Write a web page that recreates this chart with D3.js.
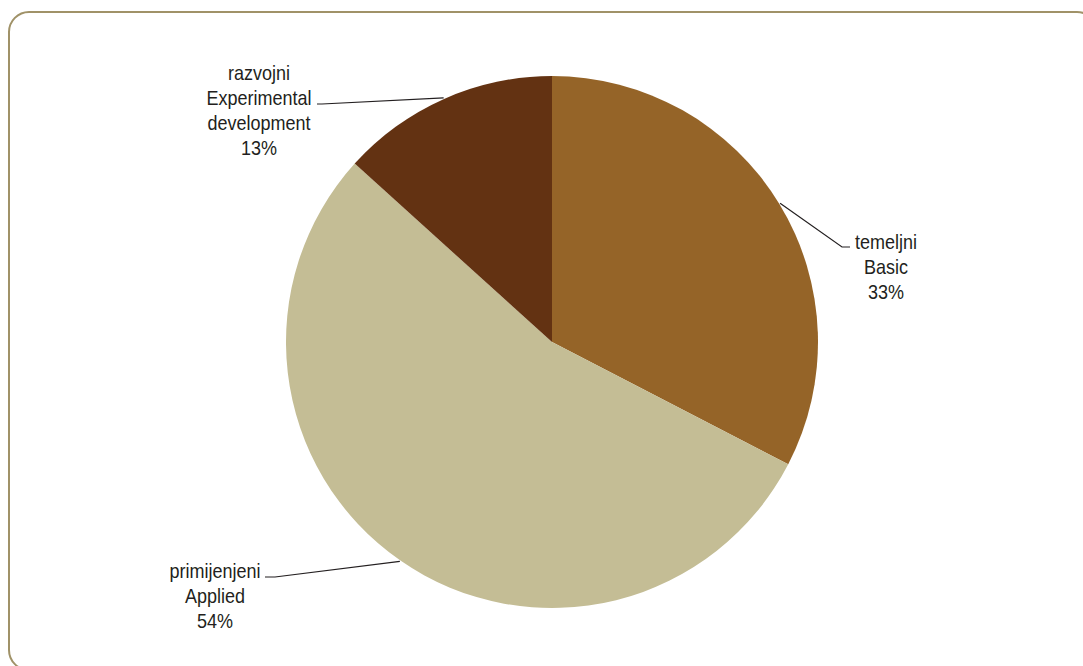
<!DOCTYPE html>
<html>
<head>
<meta charset="utf-8">
<script src="https://cdn.jsdelivr.net/npm/d3@7"></script>
<style>
  html, body { margin: 0; padding: 0; background: #fff; }
  svg { display: block; }
  text { font-family: "Liberation Sans", Arial, sans-serif; fill: #231f20; }
</style>
</head>
<body>
<svg id="chart" width="1083" height="666"></svg>
<script>
// ---- data ----
const categoriesHr = ["temeljni", "primijenjeni", "razvojni"];
const categoriesEn = ["Basic", "Applied", ["Experimental", "development"]];
const shares = [32.6, 54.1, 13.3];
const colors = ["#956428", "#c4bd95", "#633212"];

// ---- layout (label placement, not data) ----
const labelLayout = [
  { elbow: [842, 247], end: [850, 247], cx: 886, base: 249 },
  { elbow: [275, 577], end: [265, 577], cx: 215, base: 578 },
  { elbow: [322, 104], end: [317, 104], cx: 259, base: 80 }
];

const svg = d3.select("#chart");

// frame
svg.append("rect")
  .attr("x", 9).attr("y", 12)
  .attr("width", 1088).attr("height", 658)
  .attr("rx", 20).attr("ry", 20)
  .attr("fill", "none")
  .attr("stroke", "#a09268")
  .attr("stroke-width", 2);

const cx = 552, cy = 342, r = 266;
const g = svg.append("g").attr("transform", `translate(${cx},${cy})`);

const pie = d3.pie().sort(null).value(d => d)(shares);
const arc = d3.arc().innerRadius(0).outerRadius(r);

g.selectAll("path.slice")
  .data(pie)
  .join("path")
  .attr("class", "slice")
  .attr("d", arc)
  .attr("fill", (d, i) => colors[i]);

// leader lines + labels
pie.forEach((d, i) => {
  const a = (d.startAngle + d.endAngle) / 2;
  const sx = cx + Math.sin(a) * (r + 1);
  const sy = cy - Math.cos(a) * (r + 1);
  const L = labelLayout[i];
  svg.append("polyline")
    .attr("points", [[sx, sy], L.elbow, L.end].map(p => p.join(",")).join(" "))
    .attr("fill", "none")
    .attr("stroke", "#231f20")
    .attr("stroke-width", 1.2);

  const lines = [categoriesHr[i]]
    .concat(Array.isArray(categoriesEn[i]) ? categoriesEn[i] : [categoriesEn[i]])
    .concat([Math.round(d.data) + "%"]);
  const t = svg.append("text")
    .attr("text-anchor", "middle")
    .attr("font-size", 20)
    .attr("transform", `translate(${L.cx},0) scale(0.9,1)`);
  lines.forEach((s, k) => {
    t.append("tspan")
      .attr("x", 0)
      .attr("y", L.base + k * 25)
      .text(s);
  });
});
</script>
</body>
</html>
